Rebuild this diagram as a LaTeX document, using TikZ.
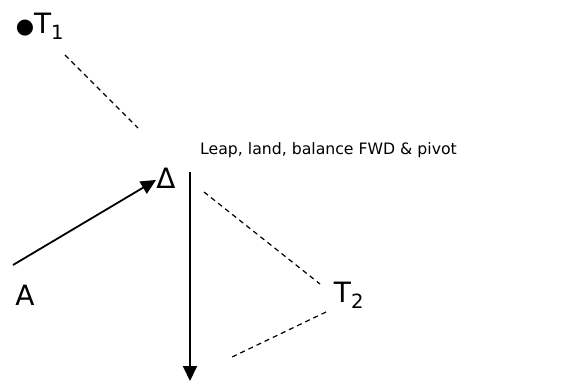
\documentclass[tikz,border=0pt]{standalone}
\usepackage{fontspec}
\setmainfont{DejaVu Sans}
\usetikzlibrary{arrows.meta}
\begin{document}
\begin{tikzpicture}[
  x=1pt,y=-1pt,
  font=\fontsize{28}{32}\selectfont,>={Triangle[length=15pt,width=14pt]},
  lbl/.style={inner sep=0pt,anchor=center},
  note/.style={inner sep=0pt,anchor=west,font=\fontsize{15.7}{19}\selectfont},
  move/.style={->,line width=1.8pt,draw=black},
  sight/.style={line width=1.2pt,draw=black,dash pattern=on 5pt off 4pt}
]
\useasboundingbox (0,0) rectangle (587,385);
% Jump from A onto the landing mark, then pivot and run down; dashed sight lines to the targets.
\node[lbl] (t1) at (40,26) {{\fontsize{21}{21}\selectfont●}T\textsubscript{1}};
\node[lbl] (delta) at (166,178) {Δ};
\node[lbl] (a) at (25,295) {A};
\node[lbl] (t2) at (349,295) {T\textsubscript{2}};
\node[note] (leap) at (200,150) {Leap, land, balance FWD \& pivot};
\coordinate (start) at (13,265);
\coordinate (land) at (156,180);
\coordinate (pivot) at (190,172);
\coordinate (finish) at (190,381);
\coordinate (s1a) at (65,55);
\coordinate (s1b) at (138,128);
\coordinate (s2a) at (204,192);
\coordinate (s2b) at (320,284);
\coordinate (s3a) at (326,312);
\coordinate (s3b) at (230,358);
\draw[move] (start) -- (land);
\draw[move] (pivot) -- (finish);
\draw[sight] (s1a) -- (s1b);
\draw[sight] (s2a) -- (s2b);
\draw[sight] (s3a) -- (s3b);
\end{tikzpicture}
\end{document}
